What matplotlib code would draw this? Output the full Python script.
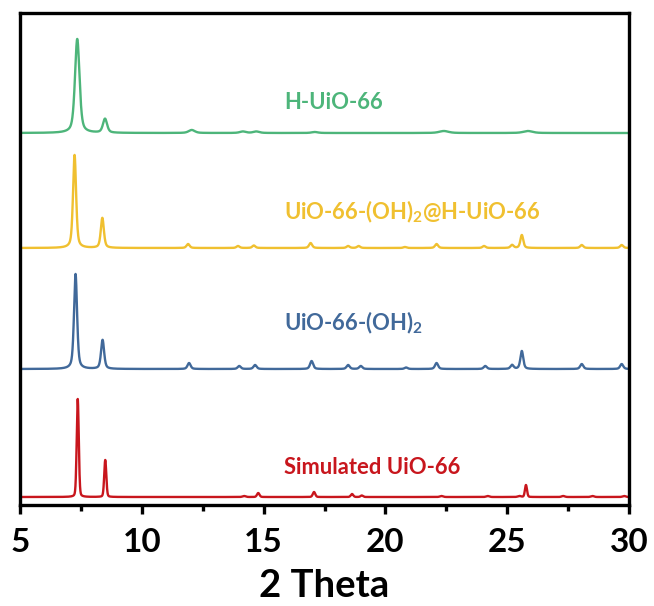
import numpy as np
import matplotlib.pyplot as plt

plt.rcParams['font.family'] = ['Lato', 'DejaVu Sans']
plt.rcParams['mathtext.fontset'] = 'custom'
plt.rcParams['mathtext.rm'] = 'Lato:bold'
plt.rcParams['mathtext.bf'] = 'Lato:bold'
plt.rcParams['mathtext.it'] = 'Lato:bold'

# peak tables: position (2θ), height, FWHM
sim_pos = [7.37, 8.50, 14.2, 14.78, 17.07, 18.63, 19.03, 22.3, 24.2, 25.5, 25.77, 27.3, 28.5, 29.8]
sim_h = [98, 37, 1, 4, 5, 3, 1.5, 1, 1, 1, 12, 1, 1, 1]
sim_w = [0.10, 0.10, 0.15, 0.12, 0.12, 0.12, 0.12, 0.15, 0.15, 0.15, 0.10, 0.15, 0.15, 0.15]

oh_pos = [7.28, 8.39, 11.94, 14.0, 14.65, 16.97, 18.47, 18.99, 20.85, 22.1, 24.1, 25.2, 25.6, 28.06, 29.7]
oh_h = [95, 29, 6, 3, 4, 8, 4, 3, 1.5, 6, 3, 4, 18, 5, 5]
oh_w = [0.15, 0.15, 0.15, 0.15, 0.15, 0.15, 0.15, 0.15, 0.15, 0.15, 0.15, 0.15, 0.14, 0.15, 0.15]

core_pos = [7.24, 8.38, 11.9, 13.95, 14.6, 16.93, 18.47, 18.9, 20.8, 22.1, 24.05, 25.2, 25.6, 28.06, 29.7]
core_h = [93, 30, 4, 2, 2.5, 5, 2, 2, 1, 4, 2, 3, 13, 3, 3]
core_w = [0.15, 0.15, 0.15, 0.15, 0.15, 0.15, 0.15, 0.15, 0.15, 0.15, 0.15, 0.15, 0.14, 0.15, 0.15]

h_pos = [7.35, 8.49, 12.05, 14.15, 14.7, 17.1, 22.4, 25.85]
h_h = [94, 14, 3, 1.5, 1.5, 1, 2, 2]
h_w = [0.22, 0.20, 0.30, 0.3, 0.3, 0.3, 0.45, 0.45]

offsets = [8, 136, 257, 372]
labels = ['Simulated UiO-66', r'UiO-66-(OH)$_{2}$', r'UiO-66-(OH)$_{2}$@H-UiO-66', 'H-UiO-66']
label_y = [37, 182, 293, 403]
colors = ['#C8161D', '#41699A', '#F0C030', '#4DB57A']

x = np.linspace(5, 30, 5001)


def pattern(pos, h, w, eta=0.5):
    y = np.zeros_like(x)
    for c, a, fw in zip(pos, h, w):
        g = np.exp(-4 * np.log(2) * ((x - c) / fw) ** 2)
        l = 1 / (1 + 4 * ((x - c) / fw) ** 2)
        y += a * (eta * l + (1 - eta) * g)
    return y


series = [(sim_pos, sim_h, sim_w, 0.2),
          (oh_pos, oh_h, oh_w, 0.5),
          (core_pos, core_h, core_w, 0.5),
          (h_pos, h_h, h_w, 0.5)]

fig = plt.figure(figsize=(6.54, 6.06), dpi=100)
ax = fig.add_axes([20 / 654, 101 / 606, 609 / 654, 492.3 / 606])

for (pos, h, w, eta), off, lab, ly, col in zip(series, offsets, labels, label_y, colors):
    ax.plot(x, pattern(pos, h, w, eta) + off, color=col, lw=1.7)
    ax.text(15.85, ly, lab, color=col, fontsize=15.8, fontweight='bold', ha='left', va='center')

ax.set_xlim(5, 30)
ax.set_ylim(0, 492.3)
ax.set_xticks([5, 10, 15, 20, 25, 30])
ax.set_xticks([7.5, 12.5, 17.5, 22.5, 27.5], minor=True)
ax.set_yticks([])
ax.tick_params(axis='x', which='major', direction='out', length=6.5, width=2.4, labelsize=24, pad=10)
ax.tick_params(axis='x', which='minor', direction='out', length=4, width=2.4)
for lbl in ax.get_xticklabels():
    lbl.set_fontweight('bold')
for sp in ax.spines.values():
    sp.set_linewidth(2.4)
ax.set_xlabel('2 Theta', fontsize=27.5, fontweight='bold', labelpad=9)

fig.savefig('out.png', dpi=100)
